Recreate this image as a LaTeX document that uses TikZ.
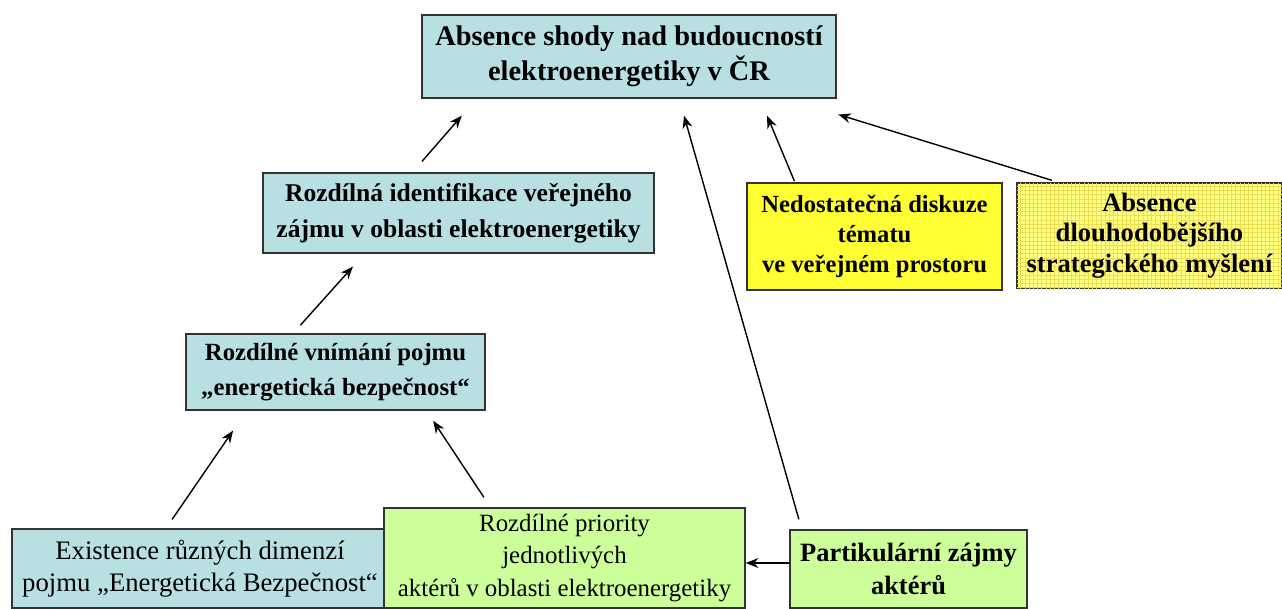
\documentclass[tikz,border=0pt]{standalone}
\usepackage{fontspec}
\setmainfont{Liberation Serif}
\usetikzlibrary{arrows.meta,patterns}
\definecolor{boxcyan}{HTML}{B8E0E3}
\definecolor{boxgreen}{HTML}{CCFF99}
\definecolor{boxyellow}{HTML}{FFFF33}
\definecolor{boxpale}{HTML}{FFFF80}
\definecolor{gridline}{HTML}{EEDD55}
\tikzset{
  box/.style={draw=black!80, line width=1pt, align=center, inner sep=2pt},
  cyanbox/.style={box, fill=boxcyan},
  greenbox/.style={box, fill=boxgreen},
  arr/.style={-{Stealth[length=9pt,width=7pt]}, line width=1pt}
}
\begin{document}
\begin{tikzpicture}
\useasboundingbox (0,0) rectangle (32.05,-15.2);
% top
\node[cyanbox, minimum width=10.35cm, minimum height=2.075cm,
  font=\bfseries\fontsize{20.2}{25}\selectfont] (top) at (15.725,-1.4125)
  {Absence shody nad budoucností\\elektroenergetiky v ČR};
% left chain
\node[cyanbox, minimum width=9.775cm, minimum height=2cm,
  font=\bfseries\fontsize{18.2}{25.6}\selectfont] (ident) at (11.4625,-5.325)
  {Rozdílná identifikace veřejného\\zájmu v oblasti elektroenergetiky};
\node[cyanbox, minimum width=7.475cm, minimum height=1.9cm,
  font=\bfseries\fontsize{17.6}{24.9}\selectfont] (vnim) at (8.3875,-9.3)
  {Rozdílné vnímání pojmu\\„energetická bezpečnost“};
\node[cyanbox, minimum width=9.4cm, minimum height=1.975cm,
  font=\fontsize{19}{22.8}\selectfont] (dimen) at (5.0,-14.2125)
  {Existence různých dimenzí\\pojmu „Energetická Bezpečnost“};
\node[greenbox, minimum width=9.025cm, minimum height=2.5cm,
  font=\fontsize{17.7}{22.8}\selectfont] (prior) at (14.1125,-13.95)
  {Rozdílné priority\\jednotlivých\\aktérů v oblasti elektroenergetiky};
\node[greenbox, minimum width=5.925cm, minimum height=1.95cm,
  font=\bfseries\fontsize{18.8}{23.5}\selectfont] (partik) at (22.7125,-14.225)
  {Partikulární zájmy\\aktérů};
% right
\node[box, fill=boxyellow, minimum width=6.375cm, minimum height=2.675cm,
  font=\bfseries\fontsize{17.5}{21.3}\selectfont] (disk) at (21.8625,-5.9125)
  {Nedostatečná diskuze\\tématu\\ve veřejném prostoru};
\node[box, fill=boxpale, postaction={pattern=grid, pattern color=gridline},
  minimum width=6.625cm, minimum height=2.625cm,
  font=\bfseries\fontsize{18.9}{21.8}\selectfont] (strat) at (28.7375,-5.8875)
  {Absence\\dlouhodobějšího\\strategického myšlení};
% arrows
\draw[arr, shorten <=0.36cm, shorten >=0.56cm] ([xshift=-1.15cm]ident.north) -- ([xshift=-3.81cm]top.south);
\draw[arr, shorten <=0.27cm, shorten >=0.43cm] ([xshift=-1.06cm]vnim.north) -- ([xshift=-2.35cm]ident.south);
\draw[arr, shorten <=0.27cm, shorten >=0.6cm] ([xshift=-0.85cm]dimen.north) -- ([xshift=-2.22cm]vnim.south);
\draw[arr, shorten <=0.3cm, shorten >=0.3cm] ([xshift=-1.85cm]prior.north) -- ([xshift=2.275cm]vnim.south);
\draw[arr, shorten <=0.26cm, shorten >=0.44cm] ([xshift=-2.67cm]partik.north) -- ([xshift=1.255cm]top.south);
\draw[arr, shorten <=0.03cm, shorten >=0.46cm] ([xshift=-1.99cm]disk.north) -- ([xshift=3.275cm]top.south);
\draw[arr, shorten <=0.17cm, shorten >=1.34cm] ([xshift=-2.28cm]strat.north) -- ([xshift=3.95cm]top.south);
\coordinate (pa) at ([yshift=0.15cm]partik.west);
\draw[arr] (pa) -- (pa -| prior.east);
\end{tikzpicture}
\end{document}
